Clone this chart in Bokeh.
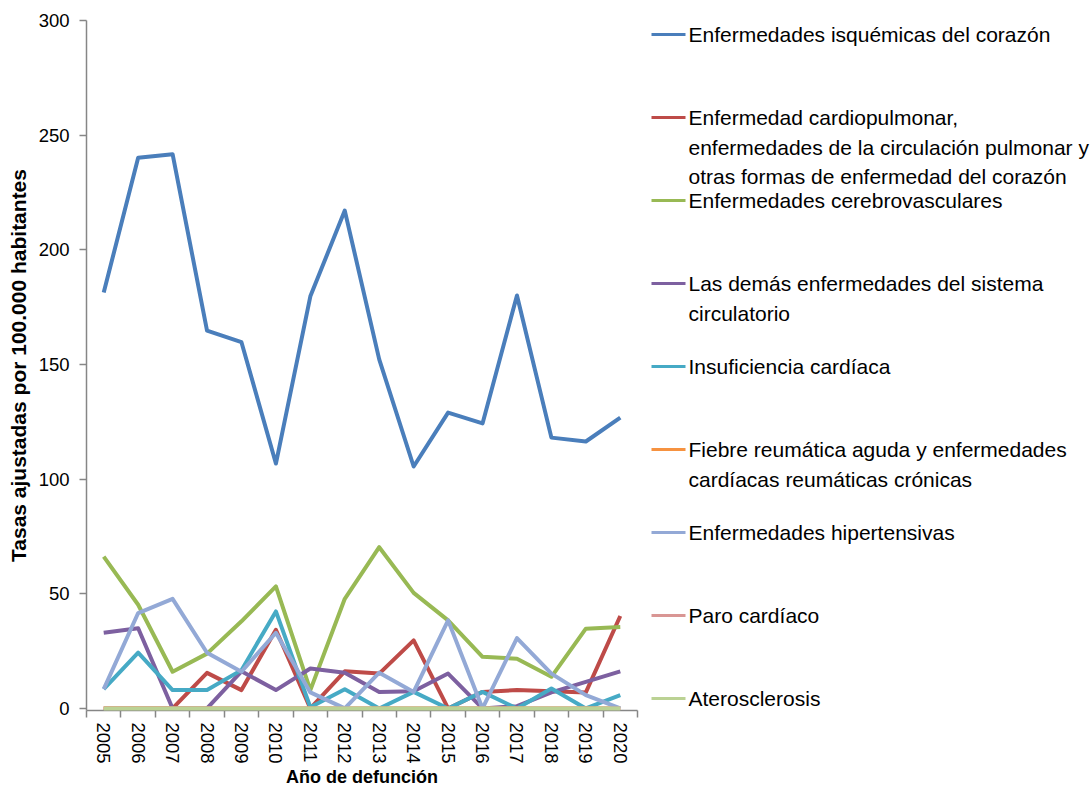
from bokeh.plotting import figure
from bokeh.models import FixedTicker, Range1d
from bokeh.layouts import row
from bokeh.core.properties import value
from bokeh.embed import file_html
from bokeh.resources import INLINE

years = [2005, 2006, 2007, 2008, 2009, 2010, 2011, 2012, 2013, 2014, 2015, 2016, 2017, 2018, 2019, 2020]

isquemicas = [181.4, 240.1, 241.7, 164.8, 159.7, 106.8, 179.7, 217.1, 152.2, 105.5, 129, 124.3, 180.1, 118.1, 116.4, 126.8]
cardiopulmonar = [0, 0, 0, 15.5, 8, 34.3, 0, 16.2, 15.2, 29.7, 0, 7.2, 8, 7.5, 7, 40.3]
cerebrovasculares = [66.2, 45.2, 16, 23.9, 38, 53.2, 8, 47.8, 70.3, 50.4, 38.4, 22.5, 21.7, 13.8, 34.8, 35.5]
demas = [33, 35, 0, 0, 16.2, 8, 17.4, 15.6, 7.2, 7.5, 15.2, 0, 1, 7, 11.6, 16.2]
insuficiencia = [8.4, 24.3, 8, 8, 16.7, 42.3, 0.5, 8.4, 0, 7.2, 0, 7.2, 0, 8.7, 0, 5.8]
fiebre = [0, 0, 0, 0, 0, 0, 0, 0, 0, 0, 0, 0, 0, 0, 0, 0]
hipertensivas = [8.4, 41.6, 47.8, 24.3, 16, 33, 7, 0, 15.6, 7.2, 38.4, 0, 30.7, 15.2, 5.8, 0]
paro = [0, 0, 0, 0, 0, 0, 0, 0, 0, 0, 0, 0, 0, 0, 0, 0]
aterosclerosis = [0, 0, 0, 0, 0, 0, 0, 0, 0, 0, 0, 0, 0, 0, 0, 0]

series_labels = [
    "Enfermedades isquémicas del corazón",
    "Enfermedad cardiopulmonar,\nenfermedades de la circulación pulmonar y\notras formas de enfermedad del corazón",
    "Enfermedades cerebrovasculares",
    "Las demás enfermedades del sistema\ncirculatorio",
    "Insuficiencia cardíaca",
    "Fiebre reumática aguda y enfermedades\ncardíacas reumáticas crónicas",
    "Enfermedades hipertensivas",
    "Paro cardíaco",
    "Aterosclerosis",
]
series_values = [isquemicas, cardiopulmonar, cerebrovasculares, demas, insuficiencia,
                 fiebre, hipertensivas, paro, aterosclerosis]
colors = ["#4A7EBB", "#BE4B48", "#98B954", "#7D60A0", "#46AAC5",
          "#F69240", "#93A9D6", "#D99694", "#BBD294"]

y_ticks = [0, 50, 100, 150, 200, 250, 300]

FONT = "Liberation Sans"
AXIS_GRAY = "#868686"

W, H = 1092, 790
MAIN_W = 648
TOP, BOTTOM = 20, 80

p = figure(width=MAIN_W, height=H, x_range=Range1d(2004.5, 2020.5), y_range=Range1d(-0.9, 300),
           output_backend="svg", toolbar_location=None,
           min_border_left=86, min_border_top=TOP, min_border_right=11, min_border_bottom=BOTTOM)
p.outline_line_color = None
p.grid.visible = False

renderers = []
for vals, col in zip(series_values, colors):
    r = p.line(years, vals, line_color=col, line_width=4, line_join="round")
    renderers.append(r)
renderers[-1].level = "overlay"

# x axis
p.xaxis.ticker = FixedTicker(ticks=years, minor_ticks=[y - 0.5 for y in years] + [years[-1] + 0.5])
p.xaxis.major_tick_out = 0
p.xaxis.major_tick_in = 0
p.xaxis.minor_tick_out = 7
p.xaxis.minor_tick_in = 0
p.xaxis.minor_tick_line_color = AXIS_GRAY
p.xaxis.minor_tick_line_width = 1.5
p.xaxis.axis_line_color = AXIS_GRAY
p.xaxis.axis_line_width = 1.5
p.xaxis.major_label_orientation = "vertical"
p.xaxis.major_label_overrides = {y: str(y) for y in years}
p.xaxis.major_label_text_font = FONT
p.xaxis.major_label_text_font_size = "18.5px"
p.xaxis.major_label_text_color = "black"
p.xaxis.major_label_standoff = 5
p.xaxis.axis_label = "Año de defunción"
p.xaxis.axis_label_text_font = FONT
p.xaxis.axis_label_text_font_style = "bold"
p.xaxis.axis_label_text_font_size = "18px"
p.xaxis.axis_label_text_color = "black"
p.xaxis.axis_label_standoff = 0

# y axis
p.yaxis.ticker = FixedTicker(ticks=y_ticks)
p.yaxis.major_tick_out = 7
p.yaxis.major_tick_in = 0
p.yaxis.minor_tick_line_color = None
p.yaxis.major_tick_line_color = AXIS_GRAY
p.yaxis.major_tick_line_width = 1.5
p.yaxis.axis_line_color = AXIS_GRAY
p.yaxis.axis_line_width = 1.5
p.yaxis.major_label_text_font = FONT
p.yaxis.major_label_text_font_size = "18.5px"
p.yaxis.major_label_text_color = "black"
p.yaxis.major_label_standoff = 10
p.yaxis.axis_label = "Tasas ajustadas por 100.000 habitantes"
p.yaxis.axis_label_text_font = FONT
p.yaxis.axis_label_text_font_style = "bold"
p.yaxis.axis_label_text_font_size = "21px"
p.yaxis.axis_label_text_color = "black"
p.yaxis.axis_label_standoff = 6

# legend panel: its frame is aligned with the main frame (page y from TOP to H-BOTTOM)
LW = W - MAIN_W
lg = figure(width=LW, height=H, x_range=Range1d(0, LW), y_range=Range1d(H - BOTTOM, TOP),
            output_backend="svg", toolbar_location=None,
            min_border_left=0, min_border_right=0, min_border_top=TOP, min_border_bottom=BOTTOM,
            x_axis_type=None, y_axis_type=None)
lg.outline_line_color = None
lg.grid.visible = False

entry_top, entry_step, line_step = 34, 83, 29.5
seg_x0, seg_x1, text_x = 3, 37, 40
for i, (lab, col) in enumerate(zip(series_labels, colors)):
    y0 = entry_top + entry_step * i
    lg.segment(x0=[seg_x0], y0=[y0], x1=[seg_x1], y1=[y0], line_color=col, line_width=3)
    lines = lab.split("\n")
    lg.text(x=[text_x] * len(lines), y=[y0 + line_step * j for j in range(len(lines))], text=lines,
            text_font=value(FONT), text_font_size="21px", text_baseline="middle",
            text_align="left", text_color="black")

layout = row(p, lg)
open("out.html", "w").write(file_html(layout, INLINE))
